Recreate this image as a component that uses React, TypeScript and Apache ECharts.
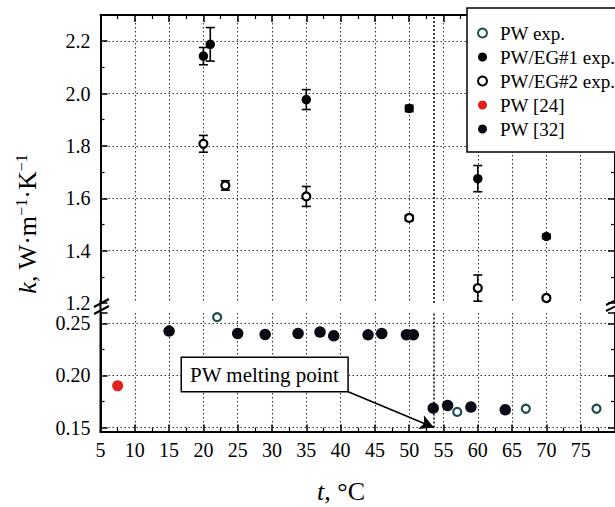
import React, { useEffect, useRef } from 'react';
import * as echarts from 'echarts';

// ---- data ----
const pwExpX = [22, 57, 67, 77.3];
const pwExpY = [0.256, 0.165, 0.168, 0.168];

const eg1X = [20, 21, 35, 50, 60, 70];
const eg1Y = [2.143, 2.188, 1.977, 1.943, 1.675, 1.454];
const eg1Err = [0.033, 0.064, 0.038, 0.012, 0.05, 0.008];

const eg2X = [20, 23.2, 35, 50, 60, 70];
const eg2Y = [1.808, 1.649, 1.607, 1.525, 1.257, 1.219];
const eg2Err = [0.032, 0.018, 0.038, 0.01, 0.05, 0.008];

const pw24X = [7.5];
const pw24Y = [0.19];

const pw32X = [15, 25, 29, 33.8, 37, 39, 44, 46, 49.6, 50.6, 53.5, 55.6, 59, 64];
const pw32Y = [0.2426, 0.2404, 0.2394, 0.2404, 0.2417, 0.2381, 0.239, 0.2404, 0.2392, 0.2392, 0.1686, 0.1712, 0.1696, 0.167];

const legendNames = ['PW exp.', 'PW/EG#1 exp.', 'PW/EG#2 exp.', 'PW [24]', 'PW [32]'];
const meltingPoint = 53.6;
const arrowStart = [41.1, 0.1844];
const annotationText = 'PW melting point';

const xRange = [5, 80, 5];
const upperRange = [1.2, 2.3, 0.2];
const lowerRange = [0.15, 0.26, 0.05];

const FONT = '"Liberation Serif", "Times New Roman", serif';

const pairs = (xs: number[], ys: number[]) => xs.map((x, i) => [x, ys[i]]);
const errPairs = (xs: number[], ys: number[], es: number[]) =>
  xs.map((x, i) => [x, ys[i] - es[i], ys[i] + es[i]]);

const axisLine = { show: true, onZero: false, lineStyle: { color: '#000', width: 2 } };
const splitLine = { show: true, lineStyle: { color: '#333', width: 1.1, type: [1.5, 2.5] } };
const tick = { show: true, inside: true, length: 7, lineStyle: { color: '#000', width: 1.5 } };
const minorTick = { show: true, splitNumber: 2, length: 4, lineStyle: { color: '#000', width: 1.2 } };
const labelFont = { fontFamily: FONT, fontSize: 20, color: '#000' };

export default function App() {
  const ref = useRef<HTMLDivElement>(null);
  useEffect(() => {
    document.body.style.margin = '0';
    if (!ref.current) return;
    const chart = echarts.init(ref.current, null, { renderer: 'svg' });

    const errRender = (params: any, api: any) => {
      const x = api.value(0);
      const lo = api.coord([x, api.value(1)]);
      const hi = api.coord([x, api.value(2)]);
      const w = 4.5;
      const st = { stroke: '#000', lineWidth: 1.6 };
      return {
        type: 'group',
        children: [
          { type: 'line', shape: { x1: hi[0], y1: hi[1], x2: lo[0], y2: lo[1] }, style: st },
          { type: 'line', shape: { x1: hi[0] - w, y1: hi[1], x2: hi[0] + w, y2: hi[1] }, style: st },
          { type: 'line', shape: { x1: lo[0] - w, y1: lo[1], x2: lo[0] + w, y2: lo[1] }, style: st },
        ],
      };
    };

    const vLine = {
      silent: true,
      symbol: 'none',
      label: { show: false },
      lineStyle: { color: '#000', width: 1.5, type: [2, 2] },
      data: [{ xAxis: meltingPoint }],
    };

    const option: any = {
      animation: false,
      backgroundColor: '#fff',
      grid: [
        { left: 100.5, right: -3, top: 15, bottom: 204 },
        { left: 100.5, right: -3, top: 313, bottom: 79.5 },
      ],
      xAxis: [
        {
          type: 'value', gridIndex: 0, position: 'top', min: xRange[0], max: xRange[1], interval: xRange[2],
          axisLine, axisTick: tick, minorTick: { ...minorTick }, splitLine: { ...splitLine, showMinLine: false, showMaxLine: false },
          axisLabel: { show: false },
        },
        {
          type: 'value', gridIndex: 1, position: 'bottom', offset: 4, min: xRange[0], max: xRange[1], interval: xRange[2],
          axisLine, axisTick: tick, minorTick: { ...minorTick }, splitLine: { ...splitLine, showMinLine: false, showMaxLine: false },
          axisLabel: { ...labelFont, margin: 8, showMaxLabel: false },
        },
      ],
      yAxis: [
        {
          type: 'value', gridIndex: 0, position: 'left', min: upperRange[0], max: upperRange[1], interval: upperRange[2],
          axisLine, axisTick: tick, minorTick: { ...minorTick },
          splitLine: { ...splitLine, showMinLine: false, showMaxLine: false },
          axisLabel: { ...labelFont, margin: 10, showMaxLabel: false, formatter: (v: number) => v.toFixed(1) },
        },
        {
          type: 'value', gridIndex: 0, position: 'right', min: upperRange[0], max: upperRange[1], interval: upperRange[2],
          axisLine, axisTick: tick, minorTick: { ...minorTick }, splitLine: { show: false }, axisLabel: { show: false },
        },
        {
          type: 'value', gridIndex: 1, position: 'left', min: lowerRange[0], max: lowerRange[1], interval: lowerRange[2],
          axisLine, axisTick: tick, minorTick: { ...minorTick },
          splitLine: { ...splitLine, showMaxLine: false },
          axisLabel: { ...labelFont, margin: 10, showMaxLabel: false, formatter: (v: number) => v.toFixed(2) },
        },
        {
          type: 'value', gridIndex: 1, position: 'right', min: lowerRange[0], max: lowerRange[1], interval: lowerRange[2],
          axisLine, axisTick: tick, minorTick: { ...minorTick }, splitLine: { show: false }, axisLabel: { show: false },
        },
      ],
      legend: {
        data: legendNames,
        orient: 'vertical',
        left: 467,
        top: 8,
        padding: [15, 14, 13, 10],
        itemWidth: 9,
        itemHeight: 9,
        itemGap: 4,
        backgroundColor: '#fff',
        borderColor: '#000',
        borderWidth: 1.5,
        borderRadius: 0,
        icon: 'circle',
        formatter: (name: string) => '{a|' + name + '}',
        textStyle: {
          fontFamily: FONT, fontSize: 19, color: '#000', lineHeight: 20,
          rich: { a: { fontFamily: FONT, fontSize: 19, color: '#000', lineHeight: 20, padding: [0, 0, 0, 8] } },
        },
      },
      series: [
        {
          name: 'errEG1', type: 'custom', xAxisIndex: 0, yAxisIndex: 0, z: 1,
          data: errPairs(eg1X, eg1Y, eg1Err), renderItem: errRender, encode: { x: 0, y: [1, 2] }, silent: true,
        },
        {
          name: 'errEG2', type: 'custom', xAxisIndex: 0, yAxisIndex: 0, z: 1,
          data: errPairs(eg2X, eg2Y, eg2Err), renderItem: errRender, encode: { x: 0, y: [1, 2] }, silent: true,
        },
        {
          name: 'PW exp.', type: 'scatter', xAxisIndex: 1, yAxisIndex: 2, z: 3,
          symbol: 'circle', symbolSize: 8,
          itemStyle: { color: '#fff', borderColor: '#1d4f4f', borderWidth: 2.2, opacity: 1 },
          data: pairs(pwExpX, pwExpY),
          markLine: vLine,
        },
        {
          name: 'PW/EG#1 exp.', type: 'scatter', xAxisIndex: 0, yAxisIndex: 0, z: 3,
          symbol: 'circle', symbolSize: 9.5,
          itemStyle: { color: '#000', opacity: 1 },
          data: pairs(eg1X, eg1Y),
          markLine: vLine,
        },
        {
          name: 'PW/EG#2 exp.', type: 'scatter', xAxisIndex: 0, yAxisIndex: 0, z: 3,
          symbol: 'circle', symbolSize: 8,
          itemStyle: { color: '#fff', borderColor: '#000', borderWidth: 2.2, opacity: 1 },
          data: pairs(eg2X, eg2Y),
        },
        {
          name: 'PW [24]', type: 'scatter', xAxisIndex: 1, yAxisIndex: 2, z: 3,
          symbol: 'circle', symbolSize: 11,
          itemStyle: { color: '#e3211c', opacity: 1 },
          data: pairs(pw24X, pw24Y),
        },
        {
          name: 'PW [32]', type: 'scatter', xAxisIndex: 1, yAxisIndex: 2, z: 3,
          symbol: 'circle', symbolSize: 11.5,
          itemStyle: { color: '#0b0b16', opacity: 1 },
          data: pairs(pw32X, pw32Y),
          markLine: {
            silent: true,
            symbol: ['none', 'arrow'],
            symbolSize: [11, 14],
            label: { show: false },
            lineStyle: { color: '#000', width: 1.6, type: 'solid' },
            data: [[{ coord: arrowStart }, { coord: [meltingPoint, lowerRange[0]] }]],
          },
        },
      ],
      graphic: [
        // continuous left axis across the break
        { type: 'line', z: 50, shape: { x1: 100.5, y1: 300, x2: 100.5, y2: 432.5 }, style: { stroke: '#000', lineWidth: 2 } },
        // break marks
        { type: 'line', z: 51, shape: { x1: 94, y1: 307, x2: 109, y2: 299 }, style: { stroke: '#000', lineWidth: 2 } },
        { type: 'line', z: 51, shape: { x1: 94, y1: 314, x2: 109, y2: 306 }, style: { stroke: '#000', lineWidth: 2 } },
        { type: 'line', z: 51, shape: { x1: 606, y1: 305, x2: 618, y2: 299 }, style: { stroke: '#000', lineWidth: 2 } },
        { type: 'line', z: 51, shape: { x1: 606, y1: 311, x2: 618, y2: 305 }, style: { stroke: '#000', lineWidth: 2 } },
        // annotation
        {
          type: 'text', z: 60, x: 182, y: 358,
          style: {
            text: annotationText, fontFamily: FONT, fontSize: 21, fill: '#000',
            align: 'left', verticalAlign: 'top', lineHeight: 21,
            backgroundColor: '#fff', borderColor: '#000', borderWidth: 1.5, padding: [6, 8, 6, 8],
          },
        },
        // y axis name
        {
          type: 'text', z: 60, x: 27, y: 224, rotation: Math.PI / 2,
          style: {
            text: '{i|k}{n|, W·m}{s|−1}{n|·K}{s|−1}',
            align: 'center', verticalAlign: 'middle', fill: '#000', fontFamily: FONT, fontSize: 26,
            rich: {
              i: { fontFamily: FONT, fontSize: 26, fontStyle: 'italic', fill: '#000' },
              n: { fontFamily: FONT, fontSize: 26, fill: '#000' },
              s: { fontFamily: FONT, fontSize: 16, fill: '#000', padding: [0, 0, 12, 0] },
            },
          },
        },
        // x axis name
        {
          type: 'text', z: 60, x: 341, y: 491,
          style: {
            text: '{i|t}{n|, °C}',
            align: 'center', verticalAlign: 'middle', fill: '#000', fontFamily: FONT, fontSize: 26,
            rich: {
              i: { fontFamily: FONT, fontSize: 26, fontStyle: 'italic', fill: '#000' },
              n: { fontFamily: FONT, fontSize: 26, fill: '#000' },
            },
          },
        },
      ],
    };

    chart.setOption(option);
    return () => chart.dispose();
  }, []);

  return <div ref={ref} style={{ width: 615, height: 507 }} />;
}
